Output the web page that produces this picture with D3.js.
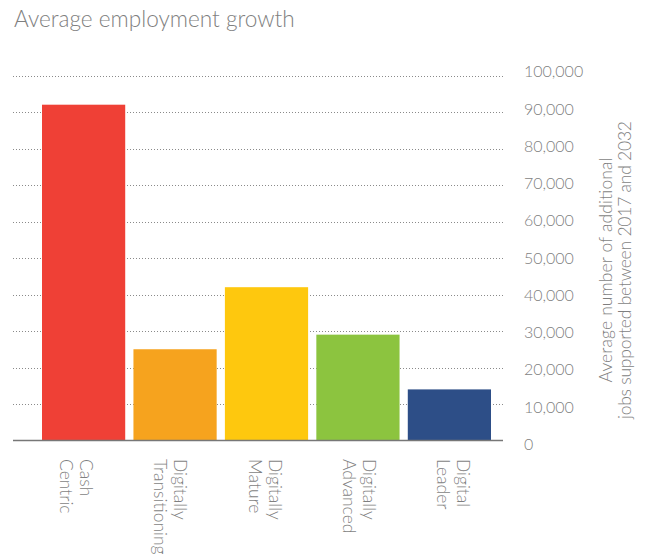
<!DOCTYPE html>
<html>
<head>
<meta charset="utf-8">
<script src="https://cdn.jsdelivr.net/npm/d3@7"></script>
<style>
    body { margin: 0; background: #fff; }
    text { font-family: "Lato", "Open Sans", sans-serif; font-weight: 300; fill: #7f7f7f; }
</style>
</head>
<body>
<svg id="chart"></svg>
<script>
// Chart data
var categories = [["Cash", "Centric"], ["Digitally", "Transitioning"], ["Digitally", "Mature"],
                  ["Digitally", "Advanced"], ["Digital", "Leader"]];
var jobs = [92000, 25000, 42000, 29000, 14000];
var barColors = ["#EF4036", "#F6A31E", "#FEC80E", "#8CC43F", "#2D4E87"];
var tickValues = [0, 10000, 20000, 30000, 40000, 50000, 60000, 70000, 80000, 90000, 100000];
var yTitle = ["Average number of additional", "jobs supported between 2017 and 2032"];

var width = 645,
    height = 557;

var svg = d3.select("#chart")
    .attr("width", width)
    .attr("height", height);

// title
svg.append("text")
    .attr("x", 14)
    .attr("y", 27)
    .style("font-size", "22.6px")
    .text("Average employment growth");

var xScale = d3.scaleBand()
    .domain(d3.range(jobs.length))
    .range([42, 491])
    .paddingInner(0.09)
    .paddingOuter(0);

// category labels sit on a slightly wider step than the bars
var labelX = d3.scalePoint()
    .domain(d3.range(jobs.length))
    .range([80, 457]);

var yScale = d3.scaleLinear()
    .domain([0, 100000])
    .range([440.5, 75.5]);

// labels on the right are spaced a touch wider than the gridlines
var labelScale = d3.scaleLinear()
    .domain([0, 100000])
    .range([444, 71.7]);

// dotted gridlines
svg.append("g")
    .selectAll("line")
    .data(tickValues.filter(function (d) { return d > 0; }))
    .enter()
    .append("line")
    .attr("x1", 13)
    .attr("x2", 503)
    .attr("y1", function (d) { return Math.round(yScale(d)) + 0.5; })
    .attr("y2", function (d) { return Math.round(yScale(d)) + 0.5; })
    .style("stroke", "#8a8a8a")
    .style("stroke-width", 1)
    .style("stroke-dasharray", "1,2");

// bars
svg.append("g")
    .selectAll("rect")
    .data(jobs)
    .enter()
    .append("rect")
    .attr("x", function (d, i) { return xScale(i); })
    .attr("y", function (d) { return yScale(d); })
    .attr("width", xScale.bandwidth())
    .attr("height", function (d) { return yScale(0) - yScale(d); })
    .style("fill", function (d, i) { return barColors[i]; });

// baseline
svg.append("line")
    .attr("x1", 13)
    .attr("x2", 503)
    .attr("y1", yScale(0))
    .attr("y2", yScale(0))
    .style("stroke", "#777")
    .style("stroke-width", 1.5);

// y tick labels
svg.append("g")
    .selectAll("text")
    .data(tickValues)
    .enter()
    .append("text")
    .attr("x", 524)
    .attr("y", function (d) { return labelScale(d); })
    .attr("dy", "0.36em")
    .style("font-size", "16px")
    .text(function (d) { return d3.format(",")(d); });

// y axis title, rotated
var yt = svg.append("text")
    .attr("transform", "translate(612,270) rotate(-90)")
    .attr("text-anchor", "middle")
    .style("font-size", "17.5px");
yt.selectAll("tspan")
    .data(yTitle)
    .enter()
    .append("tspan")
    .attr("x", 0)
    .attr("y", function (d, i) { return i * 19; })
    .attr("textLength", function (d, i) { return i ? 298 : 225; })
    .attr("lengthAdjust", "spacing")
    .text(function (d) { return d; });

// category labels, rotated to read downward
var cats = svg.append("g")
    .selectAll("text")
    .data(categories)
    .enter()
    .append("text")
    .attr("transform", function (d, i) {
        return "translate(" + labelX(i) + ",459) rotate(90)";
    })
    .style("font-size", "17.5px");
cats.selectAll("tspan")
    .data(function (d) { return d; })
    .enter()
    .append("tspan")
    .attr("x", 0)
    .attr("y", function (d, i) { return i * 20; })
    .text(function (d) { return d; });
</script>
</body>
</html>
